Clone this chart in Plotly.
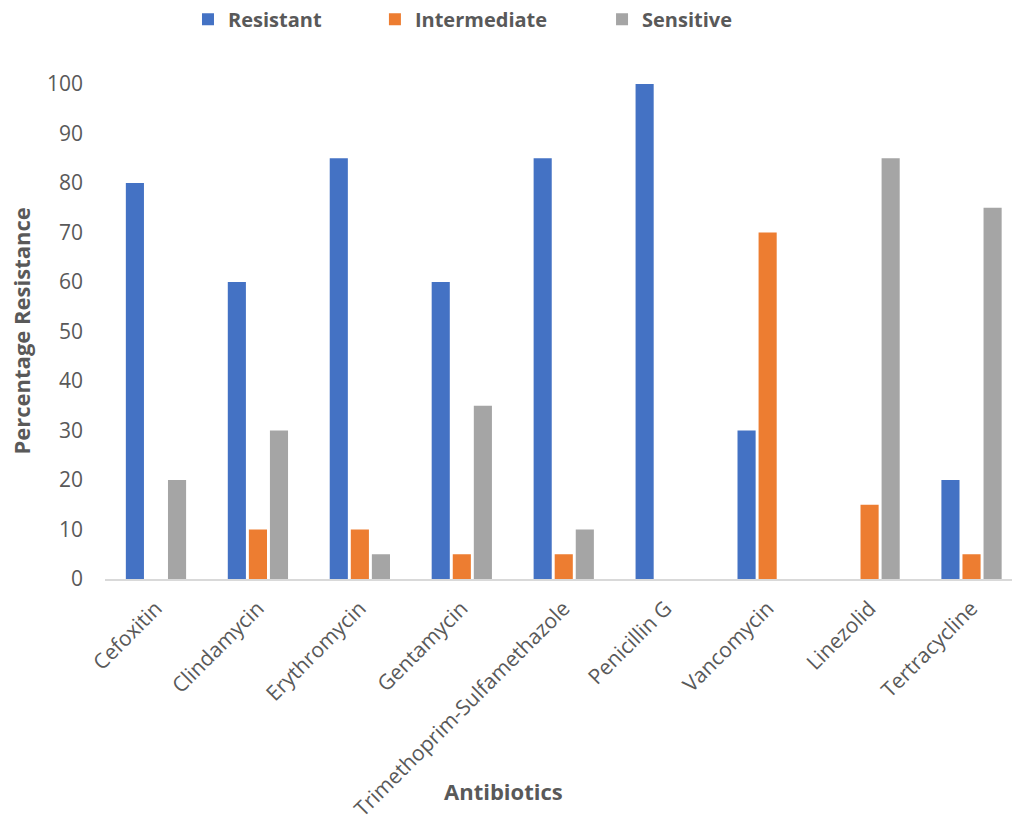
import plotly.graph_objects as go

categories = ["Cefoxitin", "Clindamycin", "Erythromycin", "Gentamycin",
              "Trimethoprim-Sulfamethazole", "Penicillin G", "Vancomycin",
              "Linezolid", "Tertracycline"]
resistant = [80, 60, 85, 60, 85, 100, 30, 0, 20]
intermediate = [0, 10, 10, 5, 5, 0, 70, 15, 5]
sensitive = [20, 30, 5, 35, 10, 0, 0, 85, 75]
y_ticks = [0, 10, 20, 30, 40, 50, 60, 70, 80, 90, 100]

FONT = "Open Sans"
GREY = "#595959"

series = [("Resistant", resistant, "#4472C4", "legend", 0.0915),
          ("Intermediate", intermediate, "#ED7D31", "legend2", 0.2976),
          ("Sensitive", sensitive, "#A5A5A5", "legend3", 0.548)]

fig = go.Figure()
legends = {}
for name, vals, col, leg, lx in series:
    fig.add_trace(go.Bar(name=name, x=categories, y=vals, legend=leg,
                         marker=dict(color=col, line=dict(width=0))))
    legends[leg] = dict(orientation="h", x=lx, xanchor="left", y=1.131, yanchor="middle",
                        font=dict(family=FONT, size=20, color=GREY, weight="bold"),
                        itemwidth=30, entrywidth=170, entrywidthmode="pixels",
                        bgcolor="rgba(0,0,0,0)")

fig.update_layout(
    width=1012, height=821,
    paper_bgcolor="white", plot_bgcolor="white",
    barmode="group", bargap=0.38, bargroupgap=0.14,
    margin=dict(l=105, r=0, t=84, b=242, autoexpand=False),
    font=dict(family=FONT, color=GREY, size=19),
    showlegend=True,
    **legends,
)
fig.update_xaxes(
    range=[-0.5, 8.397], showgrid=False, showline=True, linecolor="#D9D9D9",
    linewidth=1.5, tickangle=-45, ticks="", tickfont=dict(size=21, color=GREY),
    ticklabelstandoff=7, automargin=False,
)
fig.update_yaxes(
    range=[0, 100], tickvals=y_ticks, showgrid=False, zeroline=False, showline=False,
    ticks="", tickfont=dict(size=21, color=GREY), ticklabelstandoff=21,
    automargin=False,
)
fig.add_annotation(text="<b>Antibiotics</b>", xref="paper", yref="paper",
                   x=(503 - 105) / 907, y=(579 - 791) / 495, xanchor="center", yanchor="middle",
                   showarrow=False, font=dict(family=FONT, size=22, color=GREY))
fig.add_annotation(text="<b>Percentage Resistance</b>", xref="paper", yref="paper",
                   x=(20 - 105) / 907, y=0.5, xanchor="center", yanchor="middle",
                   textangle=-90, showarrow=False, font=dict(family=FONT, size=22, color=GREY))

fig.write_html("out.html", config={"displayModeBar": False},
               post_script="document.body.style.margin='0';")
